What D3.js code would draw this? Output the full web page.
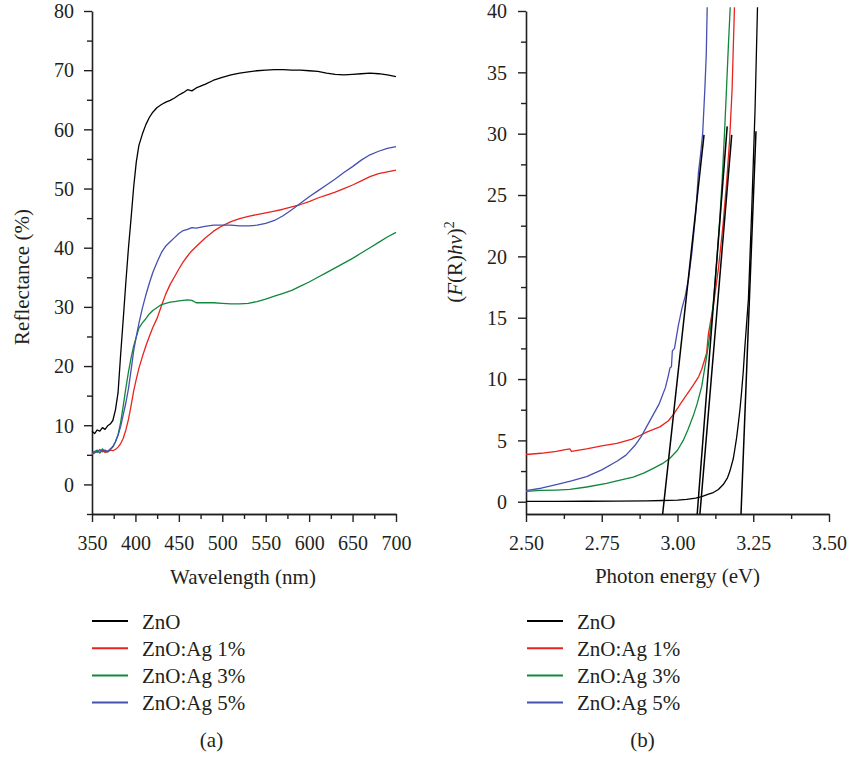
<!DOCTYPE html>
<html><head><meta charset="utf-8">
<script src="https://cdn.jsdelivr.net/npm/d3@7"></script>
</head><body style="margin:0">
<svg id="chart" width="850" height="757"></svg>
<script>
// ---------- DATA ----------
const seriesNames = ["ZnO", "ZnO:Ag 1%", "ZnO:Ag 3%", "ZnO:Ag 5%"];
const seriesColors = ["#000000", "#e8231c", "#10873a", "#4650b0"];

// (a) Reflectance vs wavelength
const wavelength = [350,353,356,359,362,365,368,371,374,377,380,383,386,389,392,395,398,401,
  404,408,412,416,420,425,430,435,440,445,450,455,460,465,470,
  480,490,500,510,520,530,540,550,560,570,580,590,600,610,620,630,640,650,660,670,680,690,700];
const reflZnO = [9.0,8.6,9.2,9.0,9.6,9.3,9.9,10.2,10.8,12.6,15.5,22.0,28.0,34.2,40.0,45.0,50.3,54.5,
  57.3,59.2,60.8,62.0,62.9,63.7,64.2,64.6,64.9,65.3,65.8,66.2,66.7,66.5,67.0,
  67.6,68.3,68.8,69.2,69.5,69.7,69.9,70.0,70.1,70.1,70.0,70.0,69.9,69.8,69.5,69.3,69.2,69.3,69.4,69.5,69.4,69.2,68.9];
const reflAg1 = [5.1,5.3,5.7,5.4,5.8,5.4,5.5,5.8,5.7,5.9,6.3,6.9,7.8,9.2,11.0,13.3,15.8,17.8,
  19.6,21.6,23.4,25.0,26.5,28.1,30.2,32.2,33.8,35.1,36.4,37.6,38.6,39.5,40.2,
  41.6,42.8,43.7,44.4,44.9,45.3,45.6,45.9,46.2,46.5,46.9,47.3,47.8,48.4,48.9,49.4,50.0,50.6,51.3,52.0,52.5,52.8,53.1];
const reflAg3 = [5.2,5.5,5.8,5.3,6.0,5.6,5.5,5.9,6.3,7.2,8.4,10.5,13.3,16.3,19.0,21.4,23.4,24.9,
  26.4,27.3,28.0,28.8,29.4,29.9,30.4,30.6,30.8,30.9,31.0,31.1,31.2,31.1,30.7,
  30.7,30.7,30.6,30.5,30.5,30.6,30.9,31.3,31.8,32.3,32.8,33.5,34.2,35.0,35.8,36.6,37.4,38.2,39.1,40.0,40.9,41.8,42.6];
const reflAg5 = [5.3,5.6,5.4,5.9,5.5,5.8,5.6,6.0,6.4,7.2,8.3,9.8,11.8,13.8,16.2,19.3,22.6,25.0,
  27.2,29.8,32.0,34.0,35.8,37.6,39.2,40.3,41.0,41.7,42.4,42.9,43.1,43.4,43.3,
  43.6,43.8,43.8,43.8,43.7,43.7,43.8,44.1,44.6,45.4,46.4,47.5,48.6,49.6,50.6,51.6,52.7,53.7,54.8,55.7,56.3,56.8,57.1];

// (b) (F(R)hv)^2 vs photon energy
const energyZnO = [2.50,2.60,2.70,2.80,2.90,2.95,3.00,3.03,3.06,3.08,3.10,3.118,3.135,3.151,3.165,3.173,3.184,3.19,3.195,3.20,3.206,3.211,3.217,3.222,3.234,3.245,3.256,3.264];
const kmZnO     = [0.03,0.03,0.04,0.05,0.07,0.10,0.13,0.20,0.30,0.42,0.60,0.75,1.0,1.4,1.95,2.5,3.5,4.4,5.2,6.2,7.5,8.8,10.6,12.5,16.5,23.8,32.0,40.3];
const energyAg1 = [2.50,2.55,2.60,2.63,2.645,2.65,2.70,2.75,2.80,2.85,2.876,2.90,2.942,2.97,2.986,3.00,3.01,3.03,3.052,3.07,3.08,3.096,3.102,3.118,3.135,3.15,3.162,3.172,3.18,3.188];
const kmAg1     = [3.85,3.95,4.1,4.25,4.3,4.1,4.3,4.55,4.75,5.1,5.4,5.7,6.1,6.6,7.1,7.6,8.0,8.7,9.5,10.2,10.8,12.1,13.7,15.9,19.0,22.5,26.0,29.5,33.5,40.3];
const energyAg3 = [2.50,2.55,2.60,2.645,2.70,2.766,2.80,2.854,2.89,2.92,2.95,2.975,3.00,3.019,3.035,3.052,3.065,3.08,3.096,3.102,3.108,3.118,3.13,3.14,3.148,3.155,3.162,3.168,3.174];
const kmAg3     = [0.85,0.92,0.95,1.0,1.2,1.5,1.7,2.0,2.35,2.72,3.1,3.55,4.2,5.0,5.9,7.0,8.0,9.4,11.8,12.8,13.9,16.2,19.8,23.2,26.5,30.0,33.8,37.2,40.3];
const energyAg5 = [2.50,2.55,2.60,2.65,2.70,2.75,2.80,2.83,2.86,2.88,2.90,2.92,2.94,2.96,2.97,2.975,2.98,2.983,2.99,3.003,3.015,3.025,3.036,3.047,3.06,3.069,3.077,3.083,3.09,3.095,3.098];
const kmAg5     = [0.9,1.1,1.4,1.7,2.05,2.6,3.3,3.8,4.6,5.3,6.2,7.1,8.0,9.3,10.3,10.9,11.0,12.3,12.5,14.4,15.8,16.7,18.1,20.2,23.5,26.8,28.5,30.0,33.5,36.5,40.3];

// Tangent (band-gap extrapolation) lines, order: ZnO, 1%, 3%, 5%
const tangentE0 = [3.2096, 3.074, 3.065, 2.951];
const tangentV0 = [-1, -1, -1, -1];
const tangentE1 = [3.259, 3.179, 3.164, 3.0875];
const tangentV1 = [30.2, 29.9, 30.6, 29.9];

// Ticks
const leftXTicks = [350,400,450,500,550,600,650,700];
const leftXMinor = [375,425,475,525,575,625,675];
const leftYTicks = [0,10,20,30,40,50,60,70,80];
const leftYMinor = [-5,5,15,25,35,45,55,65,75];
const rightXTicks = [2.50,2.75,3.00,3.25,3.50];
const rightXMinor = [2.625,2.875,3.125,3.375];
const rightYTicks = [0,5,10,15,20,25,30,35,40];
const rightYMinor = [2.5,7.5,12.5,17.5,22.5,27.5,32.5,37.5];

// ---------- DRAW ----------
const FONT = "'Liberation Serif'";
const INK = "#231f20";
const svg = d3.select("#chart");
svg.append("rect").attr("width",850).attr("height",757).attr("fill","#fff");
const FS = 21, TFS = 20;

const xL = d3.scaleLinear().domain([350,700]).range([92,396]);
const yL = d3.scaleLinear().domain([-5,80]).range([514,11]);
const xR = d3.scaleLinear().domain([2.5,3.5]).range([526,829]);
const yR = d3.scaleLinear().domain([-1,40]).range([514,11]);

function styleAxis(g){
  g.attr("font-family", FONT).attr("font-size", TFS);
  g.selectAll("path.domain").attr("stroke",INK).attr("stroke-width",1.6);
  g.selectAll(".tick line").attr("stroke",INK).attr("stroke-width",1.4);
  g.selectAll(".tick text").attr("font-size",TFS).attr("font-family",FONT).attr("fill",INK);
}

function drawAxes(x, y, xt, xm, yt, ym, xfmt, yPad){
  const bottom = y.range()[0], left = x.range()[0];
  const gxm = svg.append("g").attr("transform",`translate(0,${bottom})`)
    .call(d3.axisBottom(x).tickValues(xm).tickSize(5).tickSizeOuter(0).tickFormat(""));
  styleAxis(gxm);
  const gx = svg.append("g").attr("transform",`translate(0,${bottom})`)
    .call(d3.axisBottom(x).tickValues(xt).tickSize(8).tickSizeOuter(0).tickPadding(13.5).tickFormat(xfmt));
  styleAxis(gx);
  const gym = svg.append("g").attr("transform",`translate(${left},0)`)
    .call(d3.axisLeft(y).tickValues(ym).tickSize(5).tickSizeOuter(0).tickFormat(""));
  styleAxis(gym);
  gym.select("path.domain").remove();
  const gy = svg.append("g").attr("transform",`translate(${left},0)`)
    .call(d3.axisLeft(y).tickValues(yt).tickSize(8).tickSizeOuter(0).tickPadding(yPad).tickFormat(d3.format("d")));
  styleAxis(gy);
  gy.selectAll(".tick text").attr("dy","0.34em");
}

drawAxes(xL, yL, leftXTicks, leftXMinor, leftYTicks, leftYMinor, d3.format("d"), 10);
drawAxes(xR, yR, rightXTicks, rightXMinor, rightYTicks, rightYMinor, d3.format(".2f"), 11);

// curves (a)
const leftSeries = [reflZnO, reflAg1, reflAg3, reflAg5];
const lineL = d3.line().x(d => xL(d[0])).y(d => yL(d[1]));
leftSeries.forEach((vals, i) => {
  svg.append("path").datum(d3.zip(wavelength, vals))
    .attr("d", lineL).attr("fill","none")
    .attr("stroke", seriesColors[i]).attr("stroke-width",1.3).attr("stroke-linejoin","round");
});

// curves (b)
const rightE = [energyZnO, energyAg1, energyAg3, energyAg5];
const rightV = [kmZnO, kmAg1, kmAg3, kmAg5];
const lineR = d3.line().x(d => xR(d[0])).y(d => yR(d[1]));
rightE.forEach((es, i) => {
  svg.append("path").datum(d3.zip(es, rightV[i]))
    .attr("d", lineR).attr("fill","none")
    .attr("stroke", seriesColors[i]).attr("stroke-width",1.3).attr("stroke-linejoin","round");
});
// tangents
tangentE0.forEach((e0, i) => {
  svg.append("path").datum([[e0, tangentV0[i]],[tangentE1[i], tangentV1[i]]])
    .attr("d", lineR).attr("fill","none").attr("stroke","#000").attr("stroke-width",1.5);
});

function label(x, y, txt, opts={}){
  const t = svg.append("text").attr("font-size",FS).attr("font-family",FONT).attr("fill",INK)
    .attr("text-anchor", opts.anchor || "middle");
  if (opts.rotate) t.attr("transform",`translate(${x},${y}) rotate(-90)`);
  else t.attr("x",x).attr("y",y);
  if (txt) t.text(txt);
  return t;
}
// axis titles
label(243, 584, "Wavelength (nm)");
label(677.5, 583, "Photon energy (eV)");
label(29, 277, "Reflectance (%)", {rotate:true});
const yt = label(462, 262, null, {rotate:true});
yt.append("tspan").text("(");
yt.append("tspan").attr("font-style","italic").text("F");
yt.append("tspan").text("(R)");
yt.append("tspan").attr("font-style","italic").text("hv");
yt.append("tspan").text(")");
yt.append("tspan").attr("font-size",14).attr("dy",-8).text("2");

// legends
function legend(x0, textX){
  seriesNames.forEach((name, i) => {
    const base = 628.5 + i*27.2;
    svg.append("line").attr("x1",x0).attr("x2",x0+36).attr("y1",base-7.5).attr("y2",base-7.5)
      .attr("stroke",seriesColors[i]).attr("stroke-width",2);
    label(textX, base, name, {anchor:"start"});
  });
}
legend(92, 142);
legend(527, 577);

label(211.5, 747, "(a)");
label(642.5, 747, "(b)");
</script>
</body></html>
